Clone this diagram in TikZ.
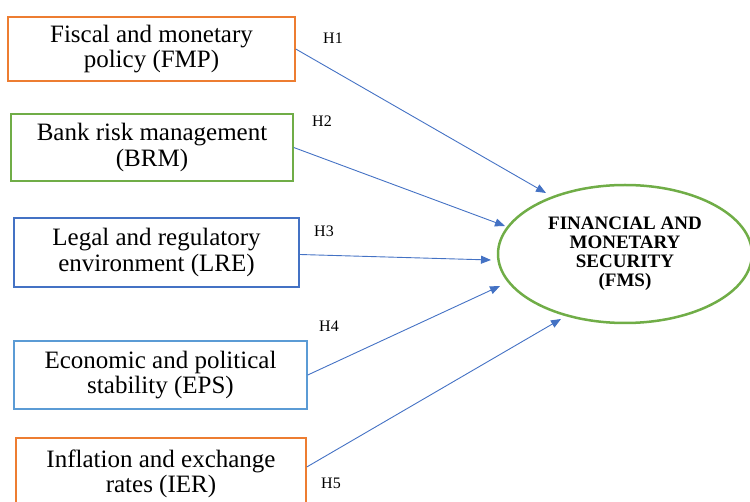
\documentclass[tikz,border=0pt]{standalone}
\usepackage{fontspec}
\setmainfont{Liberation Serif}
\usetikzlibrary{arrows.meta,shapes.geometric}
\definecolor{boxorange}{HTML}{ED7D31}
\definecolor{boxgreen}{HTML}{70AD47}
\definecolor{boxblue}{HTML}{4472C4}
\definecolor{boxlight}{HTML}{5B9BD5}
\definecolor{linkblue}{HTML}{4472C4}
\begin{document}
\begin{tikzpicture}[x=1pt,y=-1pt,
  factor/.style={draw=#1,line width=1.5pt,rectangle,inner sep=0pt,align=center,
    font=\fontsize{25}{25.5}\selectfont},
  outcome/.style={draw=boxgreen,line width=2.5pt,ellipse,inner sep=0pt,
    minimum width=254pt,minimum height=138pt,align=center,
    font=\fontsize{19}{19}\selectfont\bfseries},
  link/.style={draw=linkblue,line width=0.9pt,-{Triangle[length=10pt,width=8pt]}},
  hyp/.style={font=\fontsize{16}{16}\selectfont,inner sep=0pt}]
\useasboundingbox (0,0) rectangle (750,502);

% independent factors
\node[factor=boxorange,minimum width=287pt,minimum height=64pt] (fmp) at (151.5,49)
  {Fiscal and monetary\\policy (FMP)};
\node[factor=boxgreen,minimum width=282pt,minimum height=67pt] (brm) at (152,147.5)
  {Bank risk management\\(BRM)};
\node[factor=boxblue,minimum width=285pt,minimum height=69pt] (lre) at (156.5,252.5)
  {Legal and regulatory\\environment (LRE)};
\node[factor=boxlight,minimum width=293pt,minimum height=68pt] (eps) at (160.5,375)
  {Economic and political\\stability (EPS)};
\node[factor=boxorange,minimum width=290pt,minimum height=72pt] (ier) at (161,474)
  {Inflation and exchange\\rates (IER)};

% dependent construct
\node[outcome] (fms) at (625,254)
  {FINANCIAL AND\\MONETARY\\SECURITY\\(FMS)};

% arrow tips, just short of the ellipse
\coordinate (t1) at (546,193);
\coordinate (t2) at (505,226);
\coordinate (t3) at (491,260);
\coordinate (t4) at (500,286);
\coordinate (t5) at (561,319);

\draw[link] (fmp.east) -- (t1);
\draw[link] (brm.east) -- (t2);
\draw[link] ([yshift=-2pt]lre.east) -- (t3);
\draw[link] (eps.east) -- (t4);
\draw[link] ([yshift=7pt]ier.east) -- (t5);

% hypothesis labels
\node[hyp] (h1) at (333,38) {H1};
\node[hyp] (h2) at (322,121) {H2};
\node[hyp] (h3) at (324,231) {H3};
\node[hyp] (h4) at (329,326) {H4};
\node[hyp] (h5) at (331,483) {H5};
\end{tikzpicture}
\end{document}
